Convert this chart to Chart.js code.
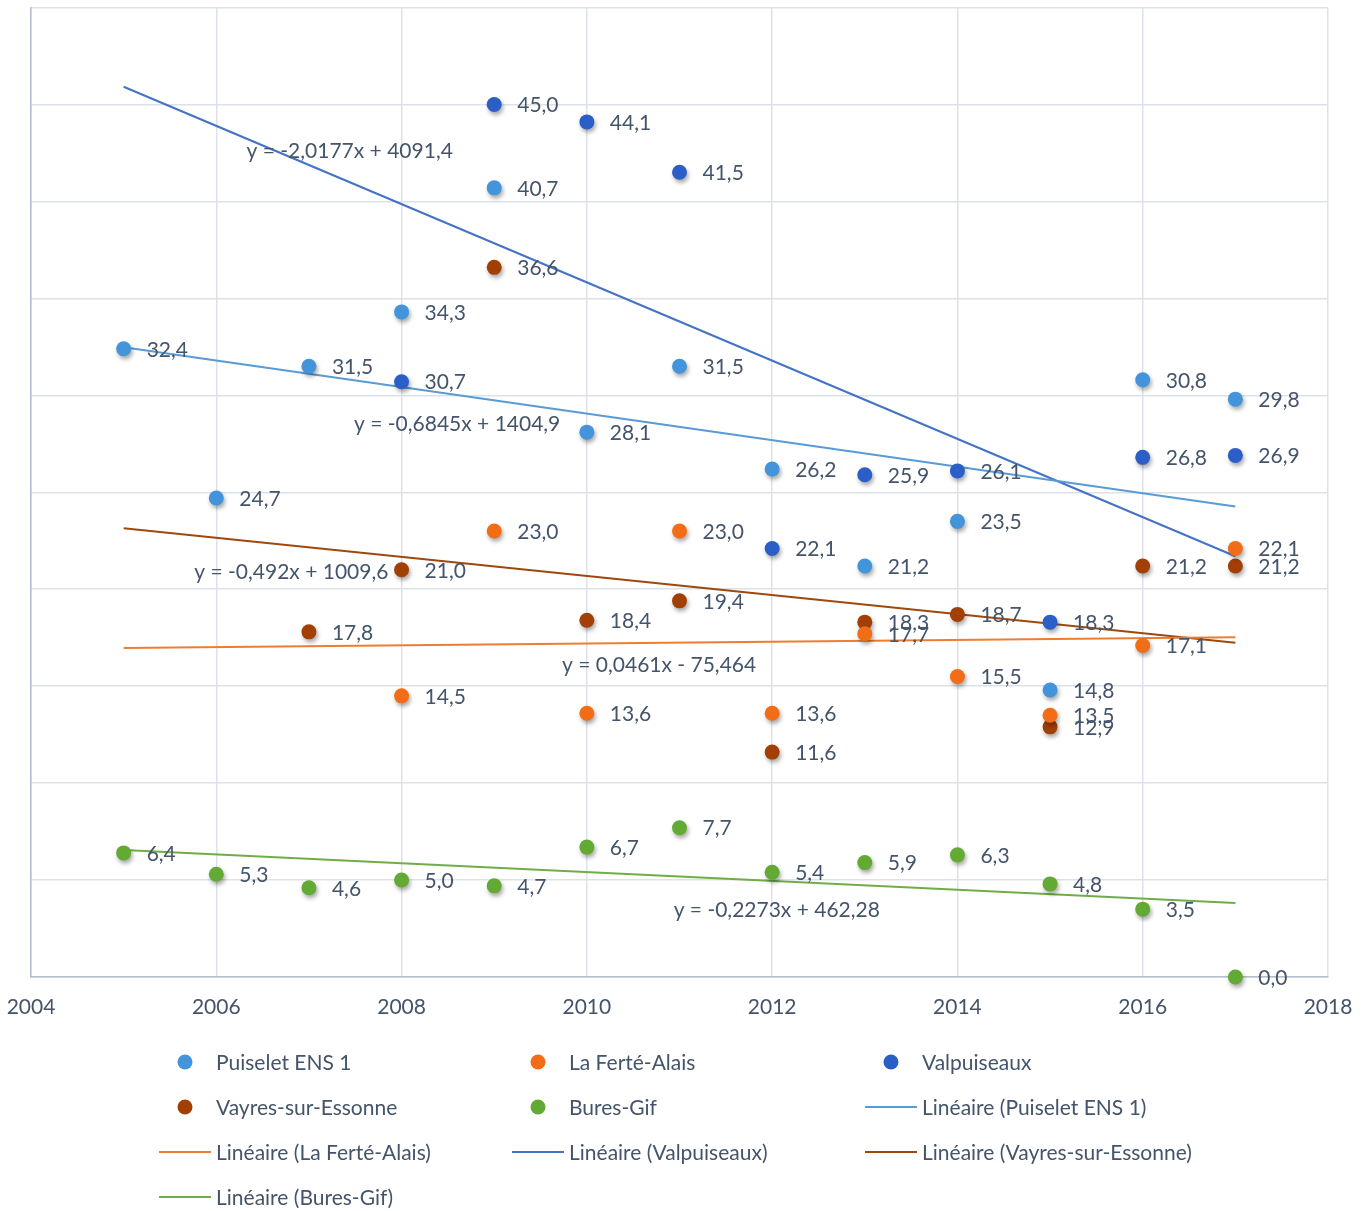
<!DOCTYPE html>
<html lang="fr">
<head>
<meta charset="UTF-8">
<title>Stations - tendances linéaires</title>
<script src="https://cdn.jsdelivr.net/npm/chart.js"></script>
<style>
  body { margin: 0; background: #fff; }
  #wrap { width: 1370px; height: 1211px; }
</style>
</head>
<body>
<div id="wrap"><canvas id="chart" width="1370" height="1211"></canvas></div>
<script>
const years = [2005, 2006, 2007, 2008, 2009, 2010, 2011, 2012, 2013, 2014, 2015, 2016, 2017];
const puiselet    = [32.4, 24.7, 31.5, 34.3, 40.7, 28.1, 31.5, 26.2, 21.2, 23.5, 14.8, 30.8, 29.8];
const ferte       = [null, null, null, 14.5, 23.0, 13.6, 23.0, 13.6, 17.7, 15.5, 13.5, 17.1, 22.1];
const valpuiseaux = [null, null, null, 30.7, 45.0, 44.1, 41.5, 22.1, 25.9, 26.1, 18.3, 26.8, 26.9];
const vayres      = [null, null, 17.8, 21.0, 36.6, 18.4, 19.4, 11.6, 18.3, 18.7, 12.9, 21.2, 21.2];
const bures       = [6.4, 5.3, 4.6, 5.0, 4.7, 6.7, 7.7, 5.4, 5.9, 6.3, 4.8, 3.5, 0.0];

const names = ['Puiselet ENS 1', 'La Ferté-Alais', 'Valpuiseaux', 'Vayres-sur-Essonne', 'Bures-Gif'];
const series = [puiselet, ferte, valpuiseaux, vayres, bures];

// équations des courbes de tendance affichées
const slopes = [-0.6845, 0.0461, -2.0177, -0.492, -0.2273];
const intercepts = [1404.9, -75.464, 4091.4, 1009.6, 462.28];
const trendRange = [2005, 2017];

// styles
const pointColors = ['#4394DA', '#F26D16', '#2B5FC7', '#A23F05', '#62AA33'];
const lineColors = ['#5B9BD5', '#ED7D31', '#4472C4', '#9E480E', '#70AD47'];
const textColor = '#44546A';
const font = 'Lato, "Open Sans", sans-serif';
const fontSize = 21;

// ancrage des étiquettes d'équation (coordonnées des axes)
const eqAnchor = [[2008.6, 28.5], [2010.78, 16.07], [2007.44, 42.6], [2006.81, 20.9], [2012.05, 3.45]];

const fmt = v => String(v).replace('.', ',');
const eqText = i => 'y = ' + fmt(slopes[i]) + 'x ' + (intercepts[i] < 0 ? '- ' : '+ ') + fmt(Math.abs(intercepts[i]));

const datasets = [];
series.forEach((vals, i) => {
  datasets.push({
    label: names[i],
    type: 'scatter',
    data: years.map((y, k) => ({ x: y, y: vals[k] })).filter(p => p.y !== null),
    backgroundColor: pointColors[i],
    borderColor: pointColors[i],
    pointRadius: 7.5,
    pointBorderWidth: 0,
    clip: false,
    order: 1
  });
});
series.forEach((vals, i) => {
  datasets.push({
    label: 'Linéaire (' + names[i] + ')',
    type: 'line',
    data: trendRange.map(x => ({ x: x, y: slopes[i] * x + intercepts[i] })),
    borderColor: lineColors[i],
    borderWidth: 2,
    pointRadius: 0,
    fill: false,
    clip: false,
    order: 2
  });
});

// ombre sous les marqueurs
const shadowPlugin = {
  id: 'shadow',
  beforeDatasetDraw(chart, args) {
    if (args.index >= 5) return;
    const ctx = chart.ctx;
    ctx.save();
    ctx.shadowColor = 'rgba(0,0,0,0.35)';
    ctx.shadowBlur = 4;
    ctx.shadowOffsetX = 1.5;
    ctx.shadowOffsetY = 3;
  },
  afterDatasetDraw(chart, args) {
    if (args.index >= 5) return;
    chart.ctx.restore();
  }
};

// étiquettes de valeurs + équations
const labelsPlugin = {
  id: 'labels',
  afterDatasetsDraw(chart) {
    const ctx = chart.ctx;
    ctx.save();
    ctx.font = fontSize + 'px ' + font;
    ctx.fillStyle = textColor;
    ctx.textBaseline = 'middle';
    ctx.textAlign = 'left';
    for (let i = 0; i < 5; i++) {
      const meta = chart.getDatasetMeta(i);
      meta.data.forEach((el, k) => {
        const v = chart.data.datasets[i].data[k].y;
        ctx.fillText(v.toFixed(1).replace('.', ','), el.x + 23, el.y + 1);
      });
    }
    ctx.textAlign = 'center';
    const xs = chart.scales.x, ys = chart.scales.y;
    eqAnchor.forEach((a, i) => {
      ctx.fillText(eqText(i), xs.getPixelForValue(a[0]), ys.getPixelForValue(a[1]));
    });
    ctx.restore();
  }
};

// légende en trois colonnes
const legendPlugin = {
  id: 'gridLegend',
  afterDraw(chart) {
    const ctx = chart.ctx;
    ctx.save();
    ctx.font = fontSize + 'px ' + font;
    ctx.textBaseline = 'middle';
    chart.data.datasets.forEach((ds, i) => {
      const col = i % 3, row = Math.floor(i / 3);
      const x0 = 159 + col * 353, y0 = 1062 + row * 45;
      if (i < 5) {
        ctx.fillStyle = ds.backgroundColor;
        ctx.beginPath();
        ctx.arc(x0 + 26, y0, 7.5, 0, Math.PI * 2);
        ctx.fill();
      } else {
        ctx.strokeStyle = ds.borderColor;
        ctx.lineWidth = 2;
        ctx.beginPath();
        ctx.moveTo(x0, y0);
        ctx.lineTo(x0 + 52, y0);
        ctx.stroke();
      }
      ctx.fillStyle = textColor;
      ctx.fillText(ds.label, x0 + 57, y0 + 1);
    });
    ctx.restore();
  }
};

new Chart(document.getElementById('chart'), {
  type: 'scatter',
  data: { datasets: datasets },
  options: {
    responsive: false,
    animation: false,
    layout: { padding: { left: 31, right: 42, top: 6, bottom: 174 } },
    plugins: { legend: { display: false }, tooltip: { enabled: false } },
    scales: {
      x: {
        type: 'linear',
        min: 2004,
        max: 2018,
        ticks: { stepSize: 2, padding: 18, color: textColor, font: { family: font, size: fontSize }, callback: v => String(v) },
        grid: { color: '#DDE2EA', lineWidth: 1.5, drawTicks: false },
        border: { color: '#B4BDCB', width: 1.5 },
        afterFit: axis => { axis.height = 60; axis.paddingLeft = 0; axis.paddingRight = 0; }
      },
      y: {
        min: 0,
        max: 50,
        ticks: { stepSize: 5, display: false },
        grid: { color: '#DDE2EA', lineWidth: 1.5, drawTicks: false },
        border: { color: '#B4BDCB', width: 1.5 },
        afterFit: axis => { axis.width = 0; axis.paddingTop = 0; axis.paddingBottom = 0; }
      }
    }
  },
  plugins: [shadowPlugin, labelsPlugin, legendPlugin]
});
</script>
</body>
</html>
